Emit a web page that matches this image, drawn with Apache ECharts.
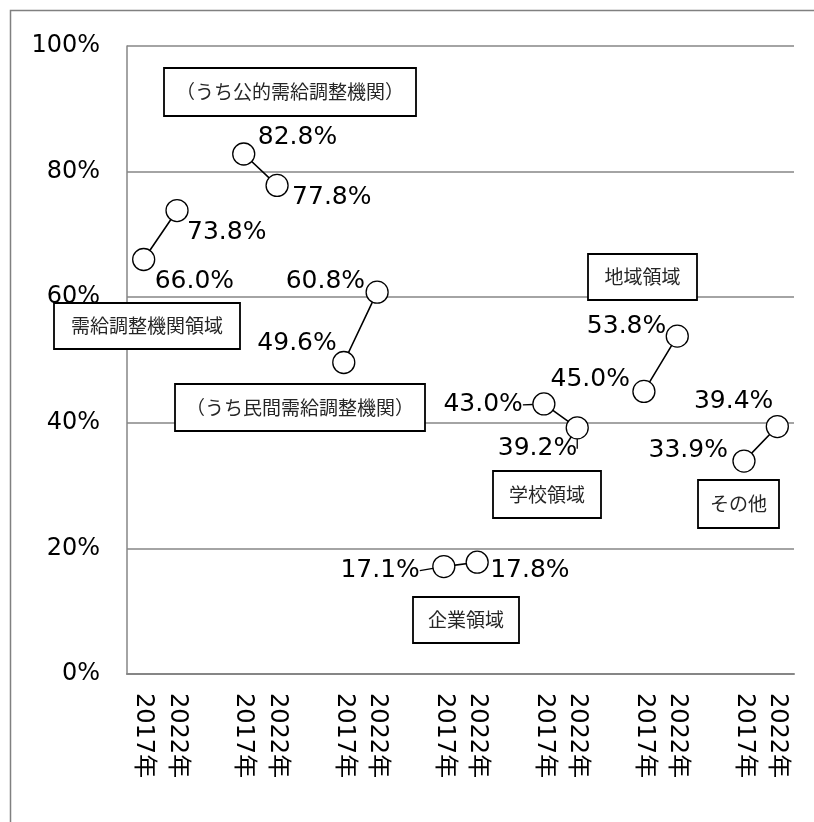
<!DOCTYPE html>
<html>
<head>
<meta charset="utf-8">
<script src="https://cdn.jsdelivr.net/npm/echarts@6/dist/echarts.min.js"></script>
<style>
html,body{margin:0;padding:0;background:#fff;}
#c{width:814px;height:822px;}
</style>
</head>
<body>
<div id="c"></div>
<script>
// ---- data ----
const groupNames = ['需給調整機関領域', '（うち公的需給調整機関）', '（うち民間需給調整機関）', '企業領域', '学校領域', '地域領域', 'その他'];
const yearLabels = ['2017年', '2022年'];
const values2017 = [66.0, 82.8, 49.6, 17.1, 43.0, 45.0, 33.9];
const values2022 = [73.8, 77.8, 60.8, 17.8, 39.2, 53.8, 39.4];
const yTickValues = [0, 20, 40, 60, 80, 100];

// ---- layout / style (not data) ----
// label placement for each point: [dx, dy, align, leaderLine]
const labelPlace2017 = [[11, 22, 'left', false], [14, -17, 'left', false], [-7, -19, 'right', false], [-24, 4, 'right', true], [-21, 1, 'right', true], [-14, -12, 'right', false], [-16, -11, 'right', false]];
const labelPlace2022 = [[10, 22, 'left', false], [15, 12, 'left', false], [-12, -11, 'right', false], [13, 8, 'left', false], [0, 21, 'right', true], [-11, -10, 'right', false], [-4, -25, 'right', false]];
// annotation boxes [x, y, w, h]
const boxLayout = [[54, 303, 186, 46], [164, 68, 252, 48], [175, 384, 250, 47], [413, 597, 106, 46], [493, 471, 108, 47], [588, 254, 109, 46], [698, 480, 81, 48]];

function makePoint(v, place) {
  const item = { value: v, label: { offset: [place[0], place[1]], align: place[2] } };
  if (place[3]) {
    item.labelLine = { show: true, lineStyle: { color: '#000', width: 1.3 } };
  }
  return item;
}

// build category axis & series data
const categories = [];
const seriesData = [];
groupNames.forEach((g, i) => {
  categories.push(yearLabels[0]);
  seriesData.push(makePoint(values2017[i], labelPlace2017[i]));
  categories.push(yearLabels[1]);
  seriesData.push(makePoint(values2022[i], labelPlace2022[i]));
  if (i < groupNames.length - 1) {
    categories.push('');
    seriesData.push(null);
  }
});

const graphics = [{
  type: 'rect', left: 8, top: 8, z: 0, silent: true,
  shape: { width: 840, height: 840 },
  style: { fill: 'none', stroke: '#808080', lineWidth: 1.5 }
}];
groupNames.forEach((g, i) => {
  const b = boxLayout[i];
  graphics.push({
    type: 'rect', x: b[0], y: b[1], z: 100, silent: true,
    shape: { width: b[2], height: b[3] },
    style: { fill: '#fff', stroke: '#000', lineWidth: 1.8 },
    textContent: {
      style: { text: g, fill: '#262626', fontSize: 19, fontFamily: '"Noto Sans CJK JP", sans-serif' },
      z: 101
    },
    textConfig: { position: 'inside' }
  });
});

const chart = echarts.init(document.getElementById('c'), null, { renderer: 'canvas' });
chart.setOption({
  animation: false,
  backgroundColor: '#fff',
  grid: { left: 127, right: 20, top: 46, bottom: 148, containLabel: false, outerBoundsMode: 'none' },
  xAxis: {
    type: 'category',
    data: categories,
    boundaryGap: true,
    axisLine: { show: true, lineStyle: { color: '#868686', width: 2 } },
    axisTick: { show: false },
    axisLabel: {
      interval: 0, rotate: -90, margin: 19,
      fontSize: 24, color: '#000',
      fontFamily: '"DejaVu Sans", "Noto Sans CJK JP", sans-serif'
    },
    splitLine: { show: false }
  },
  yAxis: {
    type: 'value',
    min: yTickValues[0], max: yTickValues[yTickValues.length - 1], interval: yTickValues[1] - yTickValues[0],
    axisLine: { show: true, lineStyle: { color: '#868686', width: 1.5 } },
    axisTick: { show: false },
    axisLabel: { formatter: '{value}%', fontSize: 24, color: '#000', margin: 27, fontFamily: '"DejaVu Sans", sans-serif' },
    splitLine: { show: true, lineStyle: { color: '#868686', width: 1.5 } }
  },
  series: [{
    type: 'line',
    data: seriesData,
    connectNulls: false,
    symbol: 'circle',
    symbolSize: 22,
    itemStyle: { color: '#fff', borderColor: '#000', borderWidth: 1.3 },
    lineStyle: { color: '#000', width: 1.6 },
    label: {
      show: true,
      position: 'inside',
      verticalAlign: 'middle',
      formatter: p => p.value.toFixed(1) + '%',
      fontSize: 25,
      color: '#000',
      fontFamily: '"DejaVu Sans", sans-serif'
    },
    emphasis: { disabled: true },
    z: 5
  }],
  graphic: graphics
});
</script>
</body>
</html>
